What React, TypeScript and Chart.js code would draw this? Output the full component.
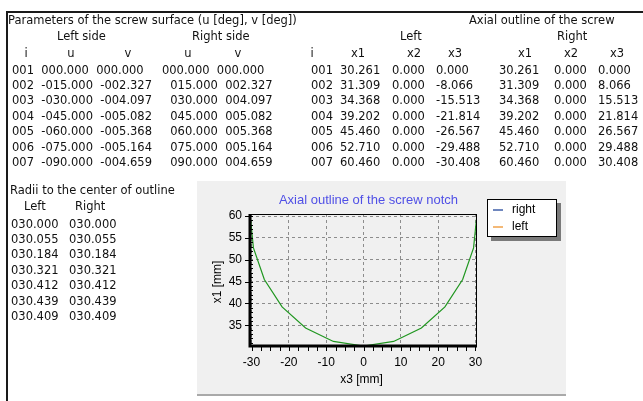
import React, { useEffect, useRef } from 'react';
import { Chart, registerables } from 'chart.js';

Chart.register(...registerables);

// ---------- data ----------
const IDX = ['001', '002', '003', '004', '005', '006', '007'];
const U_LEFT = [0, -15, -30, -45, -60, -75, -90];
const V_LEFT = [0, -2.327, -4.097, -5.082, -5.368, -5.164, -4.659];
const U_RIGHT = [0, 15, 30, 45, 60, 75, 90];
const V_RIGHT = [0, 2.327, 4.097, 5.082, 5.368, 5.164, 4.659];

const X1_LEFT = [30.261, 31.309, 34.368, 39.202, 45.46, 52.71, 60.46];
const X2_LEFT = [0, 0, 0, 0, 0, 0, 0];
const X3_LEFT = [0, -8.066, -15.513, -21.814, -26.567, -29.488, -30.408];
const X1_RIGHT = [30.261, 31.309, 34.368, 39.202, 45.46, 52.71, 60.46];
const X2_RIGHT = [0, 0, 0, 0, 0, 0, 0];
const X3_RIGHT = [0, 8.066, 15.513, 21.814, 26.567, 29.488, 30.408];

const RADII_LEFT = [30.0, 30.055, 30.184, 30.321, 30.412, 30.439, 30.409];
const RADII_RIGHT = [30.0, 30.055, 30.184, 30.321, 30.412, 30.439, 30.409];

const X_TICKS = [-30, -20, -10, 0, 10, 20, 30];
const Y_TICKS = [35, 40, 45, 50, 55, 60];
const X_MINOR_STEP = 2.5;
const Y_MINOR_STEP = 1;

const CHART_TITLE = 'Axial outline of the screw notch';
const X_TITLE = 'x3 [mm]';
const Y_TITLE = 'x1 [mm]';
const LEGEND_LABELS = ['right', 'left'];
const LEGEND_COLORS = ['#3f5fa8', '#f0a24a'];
const LINE_COLOR = '#1f961f';

// ---------- helpers ----------
const fmtPad = (v: number) => (v < 0 ? '-' : '') + Math.abs(v).toFixed(3).padStart(7, '0');
const fmt = (v: number) => v.toFixed(3);

const TEXT_FONT = '"DejaVu Sans", Verdana, sans-serif';
const LH = 15.4;

function T(props: { x: number; y: number; c?: boolean; children: React.ReactNode }) {
  return (
    <span
      style={{
        position: 'absolute',
        left: props.x,
        top: props.y - LH / 2,
        lineHeight: LH + 'px',
        whiteSpace: 'pre',
        transform: props.c ? 'translateX(-50%)' : undefined,
      }}
    >
      {props.children}
    </span>
  );
}

const decor = {
  id: 'decor',
  afterDraw(chart: any) {
    const { ctx, chartArea: a, scales } = chart;
    const xs = scales.x;
    const ys = scales.y;
    ctx.save();
    // thin top & right border
    ctx.strokeStyle = '#000';
    ctx.lineWidth = 1;
    ctx.beginPath();
    ctx.moveTo(a.left, a.top + 0.5);
    ctx.lineTo(a.right, a.top + 0.5);
    ctx.moveTo(a.right - 0.5, a.top);
    ctx.lineTo(a.right - 0.5, a.bottom);
    ctx.stroke();
    // thick left & bottom axes
    ctx.lineWidth = 3;
    ctx.beginPath();
    ctx.moveTo(a.left, a.top);
    ctx.lineTo(a.left, a.bottom);
    ctx.lineTo(a.right, a.bottom);
    ctx.stroke();
    // x ticks (outside, every minor step)
    ctx.lineWidth = 1;
    ctx.beginPath();
    const x0 = X_TICKS[0];
    const x1 = X_TICKS[X_TICKS.length - 1];
    for (let v = x0; v <= x1 + 1e-9; v += X_MINOR_STEP) {
      const px = Math.round(xs.getPixelForValue(v)) + 0.5;
      ctx.moveTo(px, a.bottom);
      ctx.lineTo(px, a.bottom + 5);
    }
    // y major ticks (outside)
    for (const v of Y_TICKS) {
      const py = Math.round(ys.getPixelForValue(v)) + 0.5;
      ctx.moveTo(a.left - 5, py);
      ctx.lineTo(a.left, py);
    }
    // y minor ticks (inside)
    for (let v = Math.ceil(ys.min); v <= ys.max + 1e-9; v += Y_MINOR_STEP) {
      const py = Math.round(ys.getPixelForValue(v)) + 0.5;
      ctx.moveTo(a.left, py);
      ctx.lineTo(a.left + 3, py);
    }
    ctx.stroke();

    // chart title
    ctx.font = '13px "Liberation Sans", Arial, sans-serif';
    ctx.fillStyle = '#5050e6';
    ctx.textAlign = 'center';
    ctx.textBaseline = 'middle';
    ctx.fillText(CHART_TITLE, (a.left + a.right) / 2 + 5, 19);

    // axis titles
    ctx.font = '12px "Liberation Sans", Arial, sans-serif';
    ctx.fillStyle = '#000';
    ctx.fillText(X_TITLE, (a.left + a.right) / 2 - 2, 199);
    ctx.save();
    ctx.translate(20.5, (a.top + a.bottom) / 2 + 2);
    ctx.rotate(-Math.PI / 2);
    ctx.fillText(Y_TITLE, 0, 0);
    ctx.restore();

    // legend box
    const lx = 290, ly = 18, lw = 70, lh = 38;
    ctx.fillStyle = '#7a7a7a';
    ctx.fillRect(lx + 4, ly + 4, lw, lh);
    ctx.fillStyle = '#fff';
    ctx.fillRect(lx, ly, lw, lh);
    ctx.strokeStyle = '#000';
    ctx.lineWidth = 1;
    ctx.strokeRect(lx + 0.5, ly + 0.5, lw - 1, lh - 1);
    ctx.textAlign = 'left';
    LEGEND_LABELS.forEach((lab, i) => {
      const yy = ly + 10.5 + i * 17;
      ctx.strokeStyle = LEGEND_COLORS[i];
      ctx.lineWidth = 1.5;
      ctx.beginPath();
      ctx.moveTo(lx + 6, Math.round(yy));
      ctx.lineTo(lx + 16, Math.round(yy));
      ctx.stroke();
      ctx.fillStyle = '#000';
      ctx.fillText(lab, lx + 25, yy);
    });
    ctx.restore();
  },
};

export default function App() {
  const ref = useRef<HTMLCanvasElement | null>(null);

  useEffect(() => {
    if (!ref.current) return;
    Chart.defaults.font.family = '"Liberation Sans", Arial, sans-serif';
    const chart = new Chart(ref.current, {
      type: 'line',
      data: {
        datasets: [
          {
            label: LEGEND_LABELS[0],
            data: X3_RIGHT.map((x, i) => ({ x, y: X1_RIGHT[i] })),
            borderColor: LINE_COLOR,
            borderWidth: 1.2,
            pointRadius: 0,
            fill: false,
            tension: 0,
          },
          {
            label: LEGEND_LABELS[1],
            data: X3_LEFT.map((x, i) => ({ x, y: X1_LEFT[i] })),
            borderColor: LINE_COLOR,
            borderWidth: 1.2,
            pointRadius: 0,
            fill: false,
            tension: 0,
          },
        ],
      },
      options: {
        responsive: false,
        animation: false,
        layout: { padding: { left: 0, top: 33, right: 89, bottom: 0 } },
        plugins: {
          legend: { display: false },
          title: { display: false },
          tooltip: { enabled: false },
        },
        scales: {
          x: {
            type: 'linear',
            min: Math.min(...X3_LEFT),
            max: Math.max(...X3_RIGHT),
            afterBuildTicks: (s: any) => {
              s.ticks = X_TICKS.map((v) => ({ value: v }));
            },
            afterFit: (s: any) => {
              s.height = 48;
            },
            grid: { color: '#8c8c8c', drawTicks: false, lineWidth: 1 },
            border: { display: false, dash: [3, 3] },
            ticks: {
              padding: 9,
              color: '#000',
              font: { size: 12 },
              maxRotation: 0,
              autoSkip: false,
              callback: (v: any) => String(v),
            },
          },
          y: {
            type: 'linear',
            min: Math.min(...X1_LEFT),
            max: Math.max(...X1_LEFT),
            afterBuildTicks: (s: any) => {
              s.ticks = Y_TICKS.map((v) => ({ value: v }));
            },
            afterFit: (s: any) => {
              s.width = 53;
            },
            grid: { color: '#8c8c8c', drawTicks: false, lineWidth: 1 },
            border: { display: false, dash: [3, 3] },
            ticks: {
              padding: 8,
              color: '#000',
              font: { size: 12 },
              autoSkip: false,
              callback: (v: any) => String(v),
            },
          },
        },
      },
      plugins: [decor],
    } as any);
    return () => chart.destroy();
  }, []);

  const textStyle: React.CSSProperties = {
    position: 'absolute',
    left: 0,
    top: 0,
    width: 643,
    height: 401,
    fontFamily: TEXT_FONT,
    fontSize: 11.5,
    color: '#111',
  };

  return (
    <div
      style={{
        position: 'fixed',
        left: 0,
        top: 0,
        width: 643,
        height: 401,
        background: '#fff',
        overflow: 'hidden',
      }}
    >
      {/* frame */}
      <div
        style={{
          position: 'absolute',
          left: 6,
          top: 11,
          right: 0,
          bottom: 0,
          borderTop: '2px solid #1a1a1a',
          borderLeft: '2px solid #1a1a1a',
        }}
      />
      {/* chart panel */}
      <div
        style={{
          position: 'absolute',
          left: 197,
          top: 181,
          width: 369,
          height: 213,
          background: '#f0f0f0',
          borderBottom: '2px solid #a9a9a9',
        }}
      />
      <canvas
        ref={ref}
        width={369}
        height={213}
        style={{ position: 'absolute', left: 197, top: 181, width: 369, height: 213 }}
      />
      <div style={textStyle}>
        {/* left table */}
        <T x={8} y={21}>Parameters of the screw surface (u [deg], v [deg])</T>
        <T x={57} y={37}>Left side</T>
        <T x={192} y={37}>Right side</T>
        <T x={26} y={54} c>i</T>
        <T x={71} y={54} c>u</T>
        <T x={128} y={54} c>v</T>
        <T x={188} y={54} c>u</T>
        <T x={238} y={54} c>v</T>
        {IDX.map((id, k) => (
          <T key={'l' + k} x={12} y={70.3 + k * LH}>
            {id + '  ' + fmtPad(U_LEFT[k]) + '  ' + fmtPad(V_LEFT[k]) + '     ' + fmtPad(U_RIGHT[k]) + '  ' + fmtPad(V_RIGHT[k])}
          </T>
        ))}

        {/* right table */}
        <T x={469} y={21}>Axial outline of the screw</T>
        <T x={400} y={37}>Left</T>
        <T x={557} y={37}>Right</T>
        <T x={312} y={54} c>i</T>
        <T x={358} y={54} c>x1</T>
        <T x={414} y={54} c>x2</T>
        <T x={455} y={54} c>x3</T>
        <T x={525} y={54} c>x1</T>
        <T x={571} y={54} c>x2</T>
        <T x={617} y={54} c>x3</T>
        {IDX.map((id, k) => (
          <React.Fragment key={'r' + k}>
            <T x={311} y={70.3 + k * LH}>{id}</T>
            <T x={340} y={70.3 + k * LH}>{fmt(X1_LEFT[k])}</T>
            <T x={392} y={70.3 + k * LH}>{fmt(X2_LEFT[k])}</T>
            <T x={436} y={70.3 + k * LH}>{fmt(X3_LEFT[k])}</T>
            <T x={499} y={70.3 + k * LH}>{fmt(X1_RIGHT[k])}</T>
            <T x={554} y={70.3 + k * LH}>{fmt(X2_RIGHT[k])}</T>
            <T x={598} y={70.3 + k * LH}>{fmt(X3_RIGHT[k])}</T>
          </React.Fragment>
        ))}

        {/* radii */}
        <T x={10} y={190.7}>Radii to the center of outline</T>
        <T x={24} y={207}>Left</T>
        <T x={75} y={207}>Right</T>
        {RADII_LEFT.map((r, k) => (
          <React.Fragment key={'q' + k}>
            <T x={11} y={224.3 + k * LH}>{fmtPad(r)}</T>
            <T x={69} y={224.3 + k * LH}>{fmtPad(RADII_RIGHT[k])}</T>
          </React.Fragment>
        ))}
      </div>
    </div>
  );
}
